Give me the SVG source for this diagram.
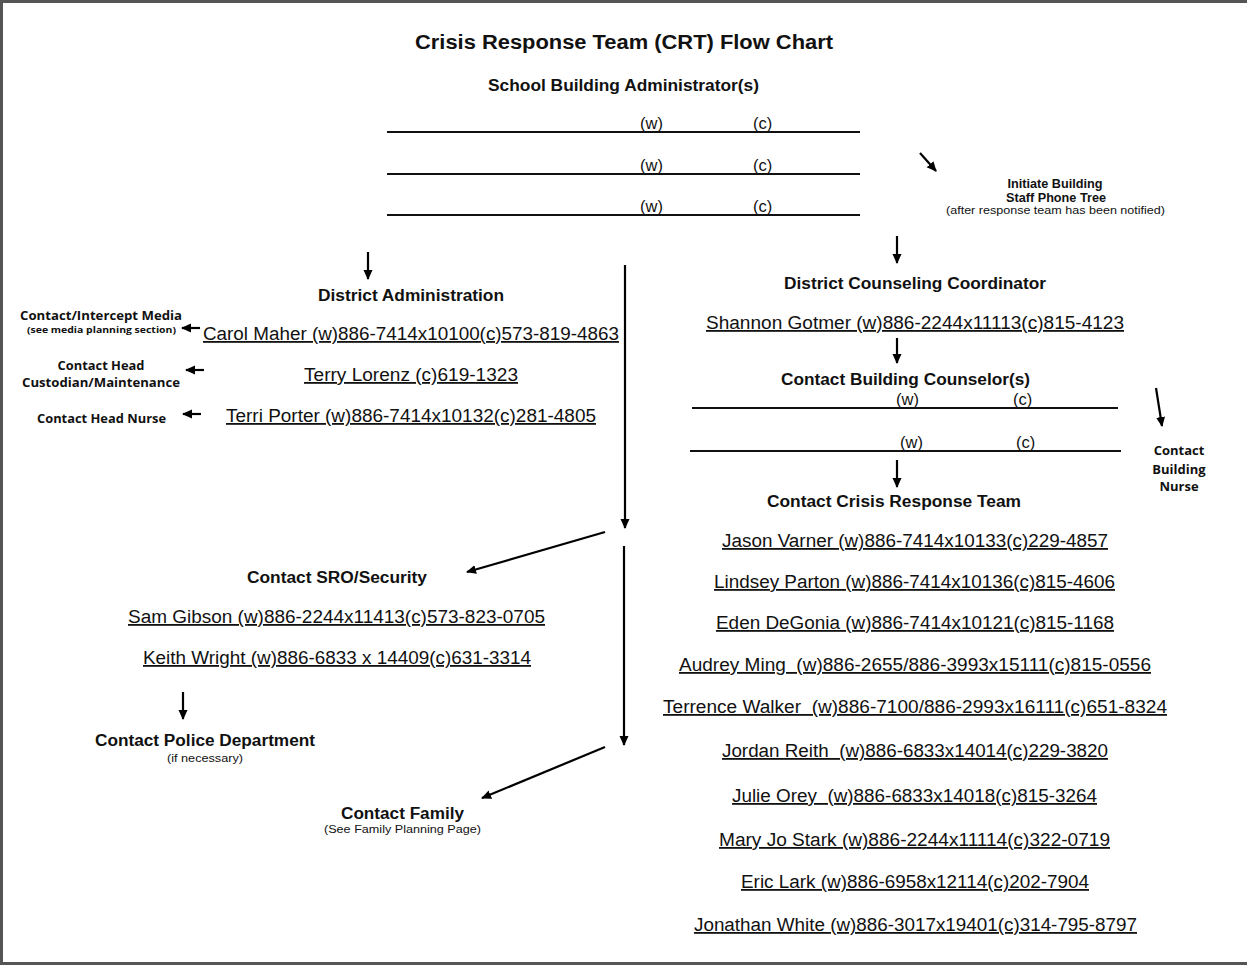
<svg xmlns="http://www.w3.org/2000/svg" width="1247" height="965" viewBox="0 0 1247 965">
<defs>
<marker id="ah" viewBox="0 0 10 10" refX="9" refY="5" markerWidth="10" markerHeight="10" markerUnits="userSpaceOnUse" orient="auto">
<path d="M0,0.5 L10,5 L0,9.5 Z" fill="#000"/>
</marker>
<style>
text{font-family:"Liberation Sans",Arial,sans-serif;fill:#111}
.t{font-size:20px;font-weight:bold}
.h{font-size:16px;font-weight:bold}
.u{font-size:18px;text-decoration:underline;white-space:pre}
.s{font-size:10px}
.c{font-family:"Open Sans","Liberation Sans",sans-serif;font-weight:bold;font-size:12px}
.cs{font-family:"Open Sans","Liberation Sans",sans-serif;font-weight:bold;font-size:9px}
.b{font-size:12.5px;font-weight:bold}
.wc{font-size:16.5px}
.ln{stroke:#111;stroke-width:2;fill:none}
.ar{stroke:#000;stroke-width:2.2;fill:none;marker-end:url(#ah)}
</style>
</defs>
<rect width="1247" height="965" fill="#fff"/>
<path d="M1.5,965 V1.5 H1247 M0,963.5 H1247" stroke="#555" stroke-width="3" fill="none"/>

<g id="title"><text class="t" x="624" y="49" text-anchor="middle" textLength="418" lengthAdjust="spacingAndGlyphs">Crisis Response Team (CRT) Flow Chart</text></g>

<g id="school-admin">
<text class="h" x="623.5" y="91" text-anchor="middle" textLength="271" lengthAdjust="spacingAndGlyphs">School Building Administrator(s)</text>
<path class="ln" d="M387,132 H860 M387,174 H860 M387,215 H860"/>
<text class="wc" x="640" y="129">(w)</text><text class="wc" x="753" y="129">(c)</text>
<text class="wc" x="640" y="171">(w)</text><text class="wc" x="753" y="171">(c)</text>
<text class="wc" x="640" y="212">(w)</text><text class="wc" x="753" y="212">(c)</text>
</g>

<g id="phone-tree">
<text class="b" x="1055" y="188" text-anchor="middle" textLength="95" lengthAdjust="spacingAndGlyphs">Initiate Building</text>
<text class="b" x="1056" y="202" text-anchor="middle" textLength="100" lengthAdjust="spacingAndGlyphs">Staff Phone Tree</text>
<text style="font-size:10.5px" x="1055.5" y="214" text-anchor="middle" textLength="219" lengthAdjust="spacingAndGlyphs">(after response team has been notified)</text>
</g>

<g id="district-admin">
<text class="h" x="411" y="301" text-anchor="middle" textLength="186" lengthAdjust="spacingAndGlyphs">District Administration</text>
<text class="u" x="203" y="340" textLength="416" lengthAdjust="spacingAndGlyphs">Carol Maher (w)886-7414x10100(c)573-819-4863</text>
<text class="u" x="304" y="381" textLength="214" lengthAdjust="spacingAndGlyphs">Terry Lorenz (c)619-1323</text>
<text class="u" x="226" y="422" textLength="370" lengthAdjust="spacingAndGlyphs">Terri Porter (w)886-7414x10132(c)281-4805</text>
</g>

<g id="media">
<text class="c" x="101" y="320" text-anchor="middle" textLength="162" lengthAdjust="spacingAndGlyphs">Contact/Intercept Media</text>
<text class="cs" x="101.5" y="333" text-anchor="middle" textLength="149" lengthAdjust="spacingAndGlyphs">(see media planning section)</text>
</g>
<g id="custodian">
<text class="c" x="101" y="370" text-anchor="middle" textLength="87" lengthAdjust="spacingAndGlyphs">Contact Head</text>
<text class="c" x="101" y="387" text-anchor="middle" textLength="158" lengthAdjust="spacingAndGlyphs">Custodian/Maintenance</text>
</g>
<g id="head-nurse">
<text class="c" x="101.5" y="423" text-anchor="middle" textLength="129" lengthAdjust="spacingAndGlyphs">Contact Head Nurse</text>
</g>

<g id="sro">
<text class="h" x="337" y="583" text-anchor="middle" textLength="180" lengthAdjust="spacingAndGlyphs">Contact SRO/Security</text>
<text class="u" x="128" y="623" textLength="417" lengthAdjust="spacingAndGlyphs">Sam Gibson (w)886-2244x11413(c)573-823-0705</text>
<text class="u" x="143" y="664" textLength="388" lengthAdjust="spacingAndGlyphs">Keith Wright (w)886-6833 x 14409(c)631-3314</text>
</g>

<g id="police">
<text class="h" x="205" y="746" text-anchor="middle" textLength="220" lengthAdjust="spacingAndGlyphs">Contact Police Department</text>
<text class="s" x="205" y="762" text-anchor="middle" textLength="76" lengthAdjust="spacingAndGlyphs">(if necessary)</text>
</g>

<g id="family">
<text class="h" x="402.5" y="819" text-anchor="middle" textLength="123" lengthAdjust="spacingAndGlyphs">Contact Family</text>
<text class="s" x="402.5" y="833" text-anchor="middle" textLength="157" lengthAdjust="spacingAndGlyphs">(See Family Planning Page)</text>
</g>

<g id="counseling-coord">
<text class="h" x="915" y="289" text-anchor="middle" textLength="262" lengthAdjust="spacingAndGlyphs">District Counseling Coordinator</text>
<text class="u" x="706" y="329" textLength="418" lengthAdjust="spacingAndGlyphs">Shannon Gotmer (w)886-2244x11113(c)815-4123</text>
</g>

<g id="building-counselors">
<text class="h" x="905.5" y="385" text-anchor="middle" textLength="249" lengthAdjust="spacingAndGlyphs">Contact Building Counselor(s)</text>
<path class="ln" d="M692,408 H1118 M690,451 H1121"/>
<text class="wc" x="896" y="405">(w)</text><text class="wc" x="1013" y="405">(c)</text>
<text class="wc" x="900" y="448">(w)</text><text class="wc" x="1016" y="448">(c)</text>
</g>

<g id="building-nurse">
<text class="c" style="font-size:13px" x="1179" y="455" text-anchor="middle">Contact</text>
<text class="c" style="font-size:13px" x="1179" y="474" text-anchor="middle">Building</text>
<text class="c" style="font-size:13px" x="1179" y="491" text-anchor="middle">Nurse</text>
</g>

<g id="crisis-team">
<text class="h" x="894" y="507" text-anchor="middle" textLength="254" lengthAdjust="spacingAndGlyphs">Contact Crisis Response Team</text>
<text class="u" x="722" y="547" textLength="386" lengthAdjust="spacingAndGlyphs">Jason Varner (w)886-7414x10133(c)229-4857</text>
<text class="u" x="714" y="588" textLength="401" lengthAdjust="spacingAndGlyphs">Lindsey Parton (w)886-7414x10136(c)815-4606</text>
<text class="u" x="716" y="629" textLength="398" lengthAdjust="spacingAndGlyphs">Eden DeGonia (w)886-7414x10121(c)815-1168</text>
<text class="u" x="679" y="671" textLength="472" lengthAdjust="spacingAndGlyphs" xml:space="preserve">Audrey Ming  (w)886-2655/886-3993x15111(c)815-0556</text>
<text class="u" x="663" y="713" textLength="504" lengthAdjust="spacingAndGlyphs" xml:space="preserve">Terrence Walker  (w)886-7100/886-2993x16111(c)651-8324</text>
<text class="u" x="722" y="757" textLength="386" lengthAdjust="spacingAndGlyphs" xml:space="preserve">Jordan Reith  (w)886-6833x14014(c)229-3820</text>
<text class="u" x="732" y="802" textLength="365" lengthAdjust="spacingAndGlyphs" xml:space="preserve">Julie Orey  (w)886-6833x14018(c)815-3264</text>
<text class="u" x="719" y="846" textLength="391" lengthAdjust="spacingAndGlyphs">Mary Jo Stark (w)886-2244x11114(c)322-0719</text>
<text class="u" x="741" y="888" textLength="348" lengthAdjust="spacingAndGlyphs">Eric Lark (w)886-6958x12114(c)202-7904</text>
<text class="u" x="694" y="931" textLength="443" lengthAdjust="spacingAndGlyphs">Jonathan White (w)886-3017x19401(c)314-795-8797</text>
</g>

<g id="connectors">
<path class="ar" d="M920,153 L936,171"/>
<path class="ar" d="M368,252 L368,279"/>
<path class="ar" d="M897,236 L897,263"/>
<path class="ar" d="M897,338 L897,363"/>
<path class="ar" d="M897,460 L897,487"/>
<path class="ar" d="M1156,388 L1162,426"/>
<path class="ar" d="M200,328 L182,328"/>
<path class="ar" d="M204,370 L186,370"/>
<path class="ar" d="M201,414 L183,414"/>
<path class="ar" d="M625,265 L625,528"/>
<path class="ar" d="M605,532 L467,572"/>
<path class="ar" d="M624,546 L624,745"/>
<path class="ar" d="M605,747 L482,798"/>
<path class="ar" d="M183,692 L183,719"/>
</g>
</svg>
